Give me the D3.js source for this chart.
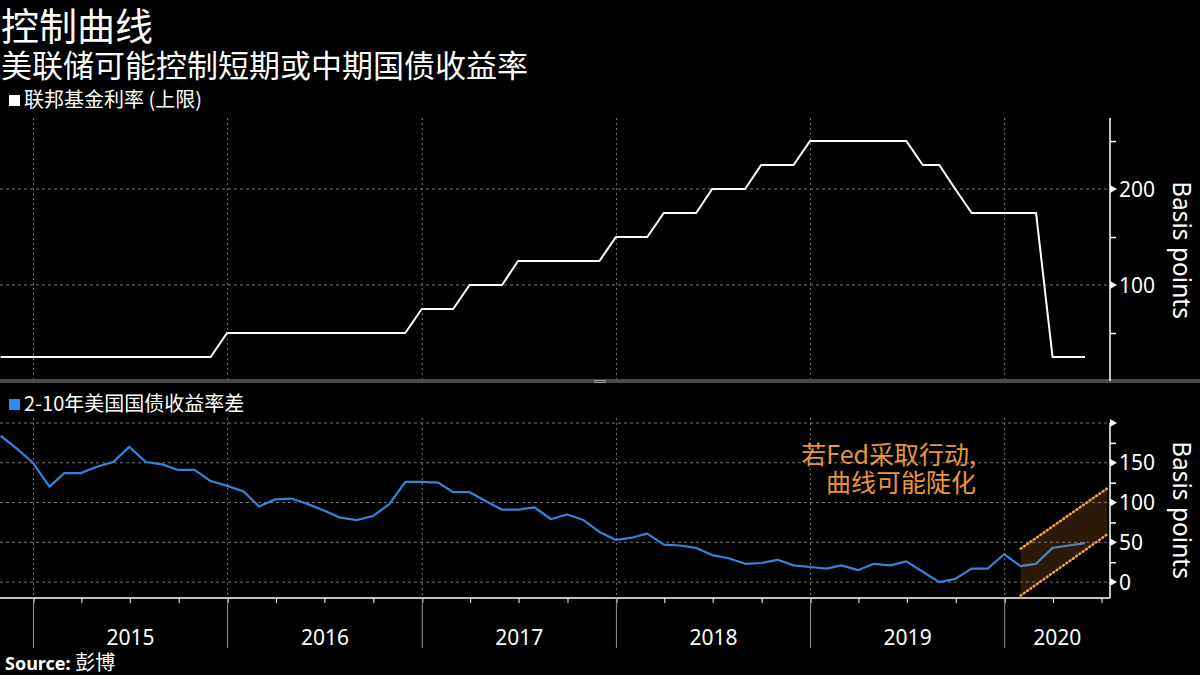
<!DOCTYPE html>
<html><head><meta charset="utf-8">
<script src="https://cdn.jsdelivr.net/npm/d3@7"></script>
<style>
html,body{margin:0;padding:0;background:#000;}
svg{display:block;}
</style></head>
<body>
<svg id="c" width="1200" height="675"></svg>
<script>
// ---- data (month-end observations) ----
const startMonth = "2014-10-01";   // month of first observation (value at month end)
const fedUpper = [25,25,
  25,25,25,25,25,25,25,25,25,25,25,25,
  50,50,50,50,50,50,50,50,50,50,50,50,
  75,75,75,100,100,100,125,125,125,125,125,125,
  150,150,150,175,175,175,200,200,200,225,225,225,
  250,250,250,250,250,250,250,225,225,200,175,175,
  175,175,175,25,25,25];
const spread2s10s = [184,168,
  150,120,137,137,145,151,170,151,148,141,141,127,
  121,114,95,104,105,98,90,81,78,83,98,126,
  126,125,113,113,102,91,91,94,79,85,78,63,
  53,56,61,47,46,43,34,30,23,24,28,21,
  19,17,21,15,23,21,26,13,0,4,17,17,
  35,20,23,43,46,49];
const bandDates = ["2020-01-31","2020-07-12"];
const bandUpper = [42,118];
const bandLower = [-17,60];
const years = [2015,2016,2017,2018,2019,2020];
const topTicks = [100,200];
const topMinor = [50,150,250];
const botTicks = [0,50,100,150];
const botMinor = [25,75,125,175];
const titleText = "控制曲线";
const subtitleText = "美联储可能控制短期或中期国债收益率";
const legendTop = "联邦基金利率 (上限)";
const legendBot = "2-10年美国国债收益率差";
const annotation = ["若Fed采取行动,","曲线可能陡化"];
const yLabel = "Basis points";
const sourceText = "Source: ";
const sourceName = "彭博";

// ---- setup ----
const parse = d3.timeParse("%Y-%m-%d");
const t0 = parse(startMonth);
const months = fedUpper.map((_, i) => d3.timeDay.offset(d3.timeMonth.offset(t0, i + 1), -1));
const svg = d3.select("#c");
const FONT = "'Noto Sans','Noto Sans CJK SC',sans-serif";
const CJK = "'Noto Sans CJK SC','Noto Sans',sans-serif";
svg.append("rect").attr("width",1200).attr("height",675).attr("fill","#000");

const x = d3.scaleTime().domain([new Date(2014,9,30), new Date(2020,6,17)]).range([0,1110]);
const yT = d3.scaleLinear().domain([0,274]).range([381,118]);
const yB = d3.scaleLinear().domain([-20,200]).range([598,423]);

// titles
svg.append("text").attr("x",1).attr("y",40).text(titleText)
  .attr("fill","#fff").attr("font-family",CJK).attr("font-size",38);
svg.append("text").attr("x",1).attr("y",77).text(subtitleText)
  .attr("fill","#fff").attr("font-family",CJK).attr("font-size",31);

// legends
function legend(yy, color, txt){
  svg.append("rect").attr("x",9).attr("y",yy-12).attr("width",11).attr("height",11).attr("fill",color);
  svg.append("text").attr("x",24).attr("y",yy).text(txt).attr("fill","#fff")
    .attr("font-family",CJK).attr("font-size",20);
}
legend(107,"#fff",legendTop);
legend(411,"#2d8cf0",legendBot);

// grids
const yearDates = years.map(yv => new Date(yv,0,1));
const gridG = svg.append("g").attr("stroke","#777").attr("stroke-width",1);
yearDates.forEach(d=>{
  gridG.append("line").attr("x1",x(d)).attr("x2",x(d)).attr("y1",118).attr("y2",381)
    .attr("stroke-dasharray","2,3");
  gridG.append("line").attr("x1",x(d)).attr("x2",x(d)).attr("y1",418).attr("y2",598)
    .attr("stroke-dasharray","2,3");
});
topTicks.forEach(v=>{
  gridG.append("line").attr("x1",0).attr("x2",1110).attr("y1",yT(v)).attr("y2",yT(v))
    .attr("stroke-dasharray","3,3");
});
[0,50,100,150,200].forEach(v=>{
  gridG.append("line").attr("x1",0).attr("x2",1110).attr("y1",yB(v)).attr("y2",yB(v))
    .attr("stroke-dasharray","3,3");
});

// top line
const lineT = d3.line().x((d,i)=>x(months[i])).y(d=>yT(d));
svg.append("path").datum(fedUpper).attr("d",lineT).attr("fill","none")
  .attr("stroke","#fff").attr("stroke-width",2);

// bottom line
const lineB = d3.line().x((d,i)=>x(months[i])).y(d=>yB(d));
svg.append("path").datum(spread2s10s).attr("d",lineB).attr("fill","none")
  .attr("stroke","#3384dc").attr("stroke-width",2.2).attr("stroke-linejoin","round");

// band
const bd = bandDates.map(parse);
const band = bd.map((d,i)=>({d, lo:bandLower[i], hi:bandUpper[i]}));
svg.append("path").datum(band)
  .attr("d", d3.area().x(p=>x(p.d)).y0(p=>yB(p.lo)).y1(p=>yB(p.hi)))
  .attr("fill","rgb(220,130,40)").attr("fill-opacity",0.2);
["hi","lo"].forEach(k=>{
  svg.append("path").datum(band)
    .attr("d", d3.line().x(p=>x(p.d)).y(p=>yB(p[k])))
    .attr("fill","none").attr("stroke","#f2a24a").attr("stroke-width",2.5)
    .attr("stroke-dasharray","1,3").attr("stroke-linecap","round");
});

// annotation
annotation.forEach((s,i)=>{
  svg.append("text").attr("x",976).attr("y",464+i*28).attr("text-anchor","end")
    .text(s).attr("fill","#e8963c").attr("font-family",CJK).attr("font-size",25);
});

// separator
svg.append("rect").attr("x",0).attr("y",379).attr("width",1200).attr("height",4).attr("fill","#4a4a4a");
svg.append("rect").attr("x",594).attr("y",380).attr("width",12).attr("height",1).attr("fill","#999");
svg.append("rect").attr("x",594).attr("y",382).attr("width",12).attr("height",1).attr("fill","#999");

// right axes
function rightAxis(scale, labeled, minor, top, bottom, extraTri){
  const g = svg.append("g").attr("transform","translate(1110,0)");
  const ax = g.append("g").call(d3.axisRight(scale).tickValues(labeled).tickSize(0).tickPadding(9));
  ax.select(".domain").remove();
  ax.selectAll("text").attr("fill","#fff").attr("font-family",FONT).attr("font-size",21).attr("dy","0.34em");
  const mn = g.append("g").call(d3.axisRight(scale).tickValues(minor).tickSize(6).tickFormat(""));
  mn.select(".domain").remove();
  mn.selectAll("line").attr("stroke","#fff").attr("stroke-width",1.5);
  g.append("line").attr("x1",0).attr("x2",0).attr("y1",top).attr("y2",bottom).attr("stroke","#fff").attr("stroke-width",1.5);
  labeled.concat(extraTri).forEach(v=>{
    const yy = scale(v);
    g.append("path").attr("d",`M0,${yy-4}L7,${yy}L0,${yy+4}Z`).attr("fill","#fff");
  });
}
rightAxis(yT, topTicks, topMinor, 118, 381, []);
rightAxis(yB, botTicks, botMinor, 423, 598, [200]);

// Basis points labels
[250,510].forEach(cy=>{
  svg.append("text").attr("transform",`translate(1173,${cy}) rotate(90)`)
    .attr("text-anchor","middle").text(yLabel).attr("fill","#fff")
    .attr("font-family",FONT).attr("font-size",24.5);
});

// x axis
const xg = svg.append("g").attr("transform","translate(0,598)");
const xa = xg.call(d3.axisBottom(x).ticks(d3.timeMonth.every(3)).tickSize(5).tickFormat(""));
xa.select(".domain").attr("d","M0,0H1110").attr("stroke","#fff").attr("stroke-width",1.5);
xa.selectAll(".tick line").attr("stroke","#fff");
yearDates.forEach(d=>{
  xg.append("line").attr("x1",x(d)).attr("x2",x(d)).attr("y1",0).attr("y2",50).attr("stroke","#999");
});
years.forEach((yv,i)=>{
  const a = x(new Date(yv,0,1));
  const b = Math.min(x(new Date(yv+1,0,1)), 1110);
  xg.append("text").attr("x",(a+b)/2).attr("y",47).attr("text-anchor","middle")
    .text(yv).attr("fill","#fff").attr("font-family",FONT).attr("font-size",21);
});

// source
const st = svg.append("text").attr("x",5).attr("y",670).attr("fill","#fff");
st.append("tspan").text(sourceText).attr("font-family",FONT).attr("font-weight","bold").attr("font-size",18);
st.append("tspan").text(sourceName).attr("font-family",CJK).attr("font-size",20);
</script>
</body></html>
